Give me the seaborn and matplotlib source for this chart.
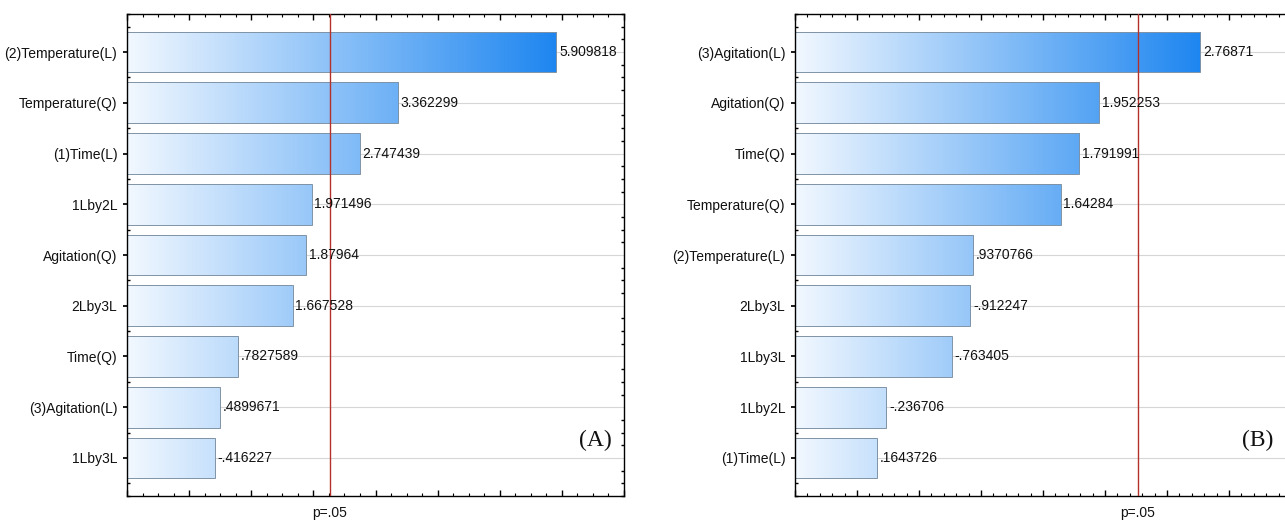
import numpy as np
import pandas as pd
import matplotlib
matplotlib.use("Agg")
import matplotlib.pyplot as plt
import seaborn as sns
from matplotlib.colors import LinearSegmentedColormap
from matplotlib.ticker import MultipleLocator
from matplotlib.transforms import blended_transform_factory

# Standardized effect estimates (signed); bars show the absolute value
terms_a = ["(2)Temperature(L)", "Temperature(Q)", "(1)Time(L)", "1Lby2L",
           "Agitation(Q)", "2Lby3L", "Time(Q)", "(3)Agitation(L)", "1Lby3L"]
effects_a = [5.909818, 3.362299, 2.747439, 1.971496, 1.87964, 1.667528,
             0.7827589, 0.4899671, -0.416227]

terms_b = ["(3)Agitation(L)", "Agitation(Q)", "Time(Q)", "Temperature(Q)",
           "(2)Temperature(L)", "2Lby3L", "1Lby3L", "1Lby2L", "(1)Time(L)"]
effects_b = [2.76871, 1.952253, 1.791991, 1.64284, 0.9370766, -0.912247,
             -0.763405, -0.236706, 0.1643726]

p_critical = 2.262157
p_label = "p=.05"
panel_tags = ["(A)", "(B)"]

sns.set_theme(style="white")
plt.rcParams["font.family"] = ["Liberation Sans", "DejaVu Sans"]
plt.rcParams["axes.edgecolor"] = "black"
plt.rcParams["axes.linewidth"] = 1.0

bar_cmap = LinearSegmentedColormap.from_list("effect_blue", ["#F2F8FF", "#1E86F0"])


def effect_text(v):
    s = f"{v:.7g}"
    if s.startswith("-0."):
        return "-" + s[2:]
    if s.startswith("0."):
        return s[1:]
    return s


def pareto_panel(ax, terms, effects, xmin, xmax, major, minor, tag, tag_x):
    df = pd.DataFrame({"term": terms, "effect": np.abs(effects)})
    sns.barplot(data=df, x="effect", y="term", orient="h", ax=ax, width=0.8,
                color="white", edgecolor="#7f93a6", linewidth=0.7, zorder=2)
    vmax = df["effect"].max()
    grad = np.linspace(0, 1, 256).reshape(1, -1)
    for patch, v in zip(ax.patches, df["effect"]):
        y0, h = patch.get_y(), patch.get_height()
        # bars are anchored at the axis minimum
        patch.set_x(xmin)
        patch.set_width(v - xmin)
        patch.set_facecolor("none")
        im = ax.imshow(grad, extent=[xmin, vmax, y0 + h, y0], cmap=bar_cmap,
                       aspect="auto", interpolation="bilinear", zorder=1.8)
        im.set_clip_path(patch)

    for i, (v, e) in enumerate(zip(df["effect"], effects)):
        ax.annotate(effect_text(e), (v, i), xytext=(2, 0), textcoords="offset points",
                    va="center", ha="left", fontsize=10, color="#111111", zorder=5)

    ax.axvline(p_critical, color="#b3302b", lw=1.0, zorder=4)
    ax.set_xlim(xmin, xmax)
    ax.set_ylim(len(terms) - 0.25, -0.75)
    ax.set_aspect("auto")
    ax.set_axisbelow(True)
    ax.grid(axis="y", color="#d6d6d6", lw=0.8)
    ax.grid(axis="x", visible=False)
    ax.xaxis.set_major_locator(MultipleLocator(major))
    ax.xaxis.set_minor_locator(MultipleLocator(minor))
    ax.yaxis.set_minor_locator(MultipleLocator(0.25))
    ax.tick_params(axis="x", which="both", direction="in", top=True, bottom=True,
                   labelbottom=False, color="black")
    ax.tick_params(axis="x", which="major", length=4, width=1)
    ax.tick_params(axis="x", which="minor", length=2, width=0.8)
    ax.tick_params(axis="y", which="major", direction="out", length=3, left=True,
                   right=False, labelsize=10, pad=4, color="black")
    ax.tick_params(axis="y", which="minor", direction="in", length=2, left=True,
                   right=True, color="black")
    ax.set_xlabel("")
    ax.set_ylabel("")
    for lbl in ax.get_yticklabels():
        lbl.set_color("#111111")
    for s in ax.spines.values():
        s.set_visible(True)
        s.set_color("black")

    trans = blended_transform_factory(ax.transData, ax.transAxes)
    ax.text(p_critical, -0.035, p_label, transform=trans, ha="center", va="center",
            fontsize=10, color="#111111")
    ax.text(tag_x, 0.115, tag, transform=ax.transAxes, ha="right", va="center",
            fontsize=17, family=["Liberation Serif", "DejaVu Serif"], color="#111111")


fig = plt.figure(figsize=(12.85, 5.2), dpi=100)
ax_a = fig.add_axes([127 / 1285, 24 / 520, 497 / 1285, 482 / 520])
ax_b = fig.add_axes([795 / 1285, 24 / 520, 496 / 1285, 482 / 520])

pareto_panel(ax_a, terms_a, effects_a, -1.0, 7.0, 1.0, 0.25, panel_tags[0], 0.975)
pareto_panel(ax_b, terms_b, effects_b, -0.5, 3.5, 0.5, 0.1, panel_tags[1], 0.965)

fig.savefig("out.png", dpi=100, facecolor="white")
